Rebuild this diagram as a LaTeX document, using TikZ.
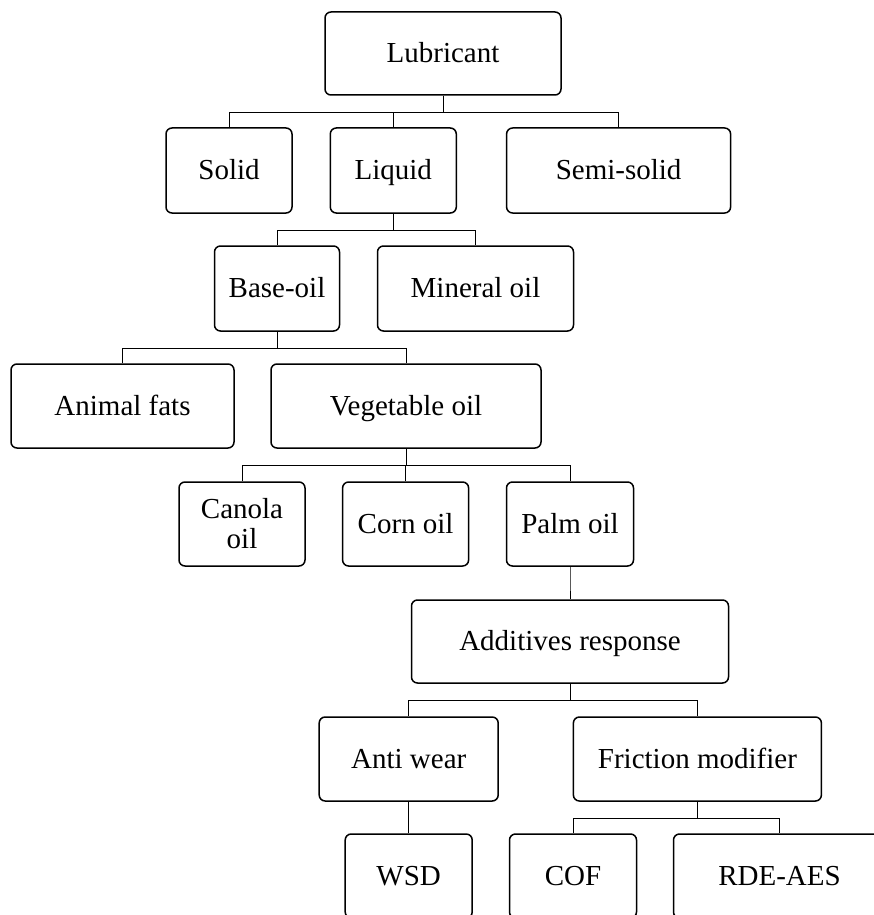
\documentclass[tikz,border=0pt]{standalone}
\usepackage{fontspec}
\setmainfont{Liberation Serif}

\begin{document}
\begin{tikzpicture}[x=1pt, y=-1pt,
    box/.style={draw, line width=1.5pt, rounded corners=6pt, align=center,
        minimum height=84pt, inner sep=2pt, text height=22pt, text depth=4pt,
        font=\fontsize{29}{30}\selectfont},
    link/.style={line width=0.8pt}]
    % --- 画布大小 ---
    \useasboundingbox (0,0) rectangle (873,915);

    % --- 定义参数 ---
    \def\half{16.5}       % 父节点底边到横线的距离
    \def\W{126pt}         % 小方框的宽度

    % --- 第一层 ---
    \node[box, minimum width=236pt, minimum height=83pt] (lub) at (443, 53.5) {Lubricant};

    % --- 第二层 ---
    \node[box, minimum width=\W, minimum height=85pt] (solid) at (229, 170.5) {Solid};
    \node[box, minimum width=\W, minimum height=85pt] (liquid) at (393.3, 170.5) {Liquid};
    \node[box, minimum width=224pt, minimum height=85pt] (semi) at (618.6, 170.5) {Semi-solid};

    % --- 第三层 ---
    \node[box, minimum width=125pt, minimum height=85pt] (base) at (277, 288.5) {Base-oil};
    \node[box, minimum width=196pt, minimum height=85pt] (mineral) at (475.5, 288.5) {Mineral oil};

    % --- 第四层 ---
    \node[box, minimum width=223pt] (animal) at (122.5, 406) {Animal fats};
    \node[box, minimum width=270pt] (veg) at (406, 406) {Vegetable oil};

    % --- 第五层 ---
    \node[box, minimum width=\W, text height=, text depth=] (canola) at (242, 524) {Canola\\oil};
    \node[box, minimum width=\W] (corn) at (405.6, 524) {Corn oil};
    \node[box, minimum width=127pt] (palm) at (570, 524) {Palm oil};

    % --- 添加剂 ---
    \node[box, minimum width=317pt, minimum height=83pt] (add) at (570, 641.5) {Additives response};
    \node[box, minimum width=179pt] (aw) at (408.7, 759) {Anti wear};
    \node[box, minimum width=248pt] (fm) at (697.4, 759) {Friction modifier};

    % --- 最底层 (下边被裁掉) ---
    \node[box, minimum width=127pt] (wsd) at (408.7, 876) {WSD};
    \node[box, minimum width=127pt] (cof) at (573, 876) {COF};
    \node[box, minimum width=212pt] (rde) at (779.5, 876) {RDE-AES};

    % --- 连接线 ---
    \foreach \p/\c in {lub/solid, lub/liquid, lub/semi,
                       liquid/base, liquid/mineral,
                       base/animal, base/veg,
                       veg/canola, veg/corn, veg/palm,
                       palm/add, add/aw, add/fm,
                       aw/wsd, fm/cof, fm/rde}
        \draw[link] (\p.south) -- ++(0,\half) -| (\c.north);

\end{tikzpicture}
\end{document}
